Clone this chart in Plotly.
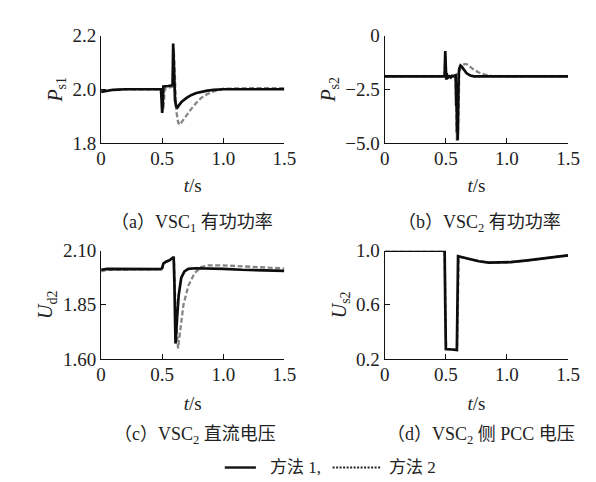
import plotly.graph_objects as go

# ---------------- data ----------------
# (a) P_s1
t_a1 = [0, 0.04, 0.10, 0.20, 0.49, 0.495, 0.50, 0.505, 0.51, 0.55, 0.585, 0.59, 0.595, 0.60, 0.605,
        0.615, 0.625, 0.64, 0.66, 0.70, 0.74, 0.78, 0.82, 0.87, 0.92, 1.0, 1.2, 1.5]
p_a1 = [1.99, 1.993, 1.998, 2.0, 2.0, 1.96, 1.912, 1.95, 2.01, 2.012, 2.015, 2.17, 2.12, 2.04, 1.96,
        1.935, 1.932, 1.942, 1.954, 1.968, 1.979, 1.986, 1.991, 1.995, 1.998, 2.0, 2.0, 2.0]
t_a2 = [0, 0.04, 0.10, 0.20, 0.49, 0.50, 0.505, 0.51, 0.515, 0.52, 0.55, 0.585, 0.595, 0.60, 0.605,
        0.615, 0.63, 0.64, 0.65, 0.67, 0.70, 0.74, 0.78, 0.82, 0.87, 0.92, 0.97, 1.0, 1.2, 1.5]
p_a2 = [1.995, 1.996, 1.999, 2.0, 2.0, 1.99, 1.95, 1.925, 1.96, 2.0, 2.005, 2.01, 2.15, 2.10, 2.0,
        1.92, 1.878, 1.868, 1.872, 1.885, 1.905, 1.928, 1.95, 1.968, 1.982, 1.992, 1.998, 2.002, 2.004, 2.004]

# (b) P_s2
t_b1 = [0, 0.49, 0.495, 0.50, 0.503, 0.507, 0.51, 0.515, 0.52, 0.53, 0.54, 0.55, 0.56, 0.58, 0.585,
        0.588, 0.591, 0.594, 0.597, 0.60, 0.605, 0.61, 0.62, 0.63, 0.65, 0.67, 0.70, 0.73, 0.8, 1.0, 1.5]
p_b1 = [-1.9, -1.9, -0.72, -1.5, -2.05, -1.75, -2.0, -1.85, -1.95, -1.9, -1.95, -1.88, -1.9, -1.85, -3.3,
        -2.2, -4.5, -2.4, -4.87, -3.0, -1.8, -1.54, -1.40, -1.45, -1.62, -1.76, -1.86, -1.9, -1.9, -1.9, -1.9]
t_b2 = [0, 0.49, 0.495, 0.50, 0.505, 0.51, 0.52, 0.54, 0.56, 0.58, 0.59, 0.595, 0.60, 0.605, 0.61,
        0.62, 0.64, 0.66, 0.68, 0.70, 0.73, 0.77, 0.82, 0.87, 0.92, 1.0, 1.5]
p_b2 = [-1.9, -1.9, -0.9, -1.6, -2.0, -1.85, -1.95, -1.9, -1.88, -1.86, -4.9, -3.0, -4.6, -2.5, -1.8,
        -1.5, -1.36, -1.32, -1.36, -1.46, -1.6, -1.72, -1.82, -1.88, -1.9, -1.9, -1.9]

# (c) U_d2
t_c1 = [0, 0.05, 0.49, 0.50, 0.51, 0.53, 0.56, 0.585, 0.594, 0.60, 0.609, 0.622, 0.635, 0.656,
        0.682, 0.714, 0.77, 1.0, 1.15, 1.5]
u_c1 = [2.012, 2.016, 2.015, 2.02, 2.041, 2.049, 2.056, 2.068, 2.071, 1.953, 1.671, 1.79, 1.894, 1.975,
        2.004, 2.016, 2.019, 2.016, 2.012, 2.007]
t_c2 = [0, 0.05, 0.49, 0.50, 0.51, 0.53, 0.56, 0.585, 0.596, 0.61, 0.63, 0.648, 0.674, 0.714,
        0.766, 0.818, 0.87, 1.0, 1.13, 1.29, 1.5]
u_c2 = [2.004, 2.012, 2.015, 2.02, 2.04, 2.047, 2.054, 2.065, 2.068, 1.8, 1.649, 1.732, 1.85, 1.938,
        1.997, 2.024, 2.032, 2.032, 2.029, 2.024, 2.018]

# (d) U_s2
t_d1 = [0, 0.49, 0.495, 0.50, 0.55, 0.59, 0.60, 0.64, 0.70, 0.77, 0.85, 0.95, 1.03, 1.17, 1.33, 1.5]
u_d1 = [1.0, 1.0, 0.6, 0.273, 0.27, 0.266, 0.96, 0.95, 0.935, 0.922, 0.912, 0.912, 0.915, 0.929, 0.946, 0.965]
t_d2 = [0, 0.49, 0.497, 0.502, 0.55, 0.592, 0.605, 0.64, 0.70, 0.77, 0.85, 0.95, 1.03, 1.17, 1.33, 1.5]
u_d2 = [1.0, 1.0, 0.55, 0.273, 0.27, 0.266, 0.955, 0.95, 0.935, 0.922, 0.912, 0.912, 0.915, 0.929, 0.946, 0.965]

x_ticks = [0, 0.5, 1.0, 1.5]
x_ticktext = ["0", "0.5", "1.0", "1.5"]
yticks_a = [1.8, 2.0, 2.2]; ytext_a = ["1.8", "2.0", "2.2"]
yticks_b = [-5.0, -2.5, 0]; ytext_b = ["\u22125.0", "\u22122.5", "0"]
yticks_c = [1.60, 1.85, 2.10]; ytext_c = ["1.60", "1.85", "2.10"]
yticks_d = [0.2, 0.6, 1.0]; ytext_d = ["0.2", "0.6", "1.0"]

captions = ["（a）VSC<sub>1</sub> 有功功率", "（b）VSC<sub>2</sub> 有功功率",
            "（c）VSC<sub>2</sub> 直流电压", "（d）VSC<sub>2</sub> 侧 PCC 电压"]
ytitles = ["<i>P</i><sub>s1</sub>", "<i>P</i><sub>s2</sub>", "<i>U</i><sub>d2</sub>", "<i>U</i><sub>s2</sub>"]
legend_names = ["方法 1,", "方法 2"]

# ---------------- figure ----------------
W, H = 596, 482
SERIF = "Liberation Serif"
CAPF = "Liberation Serif, Noto Sans CJK SC"

fig = go.Figure()

panels = [
    (t_a1, p_a1, t_a2, p_a2, [1.8, 2.2], yticks_a, ytext_a),
    (t_b1, p_b1, t_b2, p_b2, [-5.0, 0], yticks_b, ytext_b),
    (t_c1, u_c1, t_c2, u_c2, [1.60, 2.10], yticks_c, ytext_c),
    (t_d1, u_d1, t_d2, u_d2, [0.2, 1.0], yticks_d, ytext_d),
]

xdoms = [[90.7 / W, 279.3 / W], [382.7 / W, 571.3 / W]]
ydoms = [[1 - 130.7 / H, 1 - 18.3 / H], [1 - 356.5 / H, 1 - 243.3 / H]]
xtitle_standoff = [10, 10, 12, 12]

for i, (t1, v1, t2, v2, yr, yt, ytt) in enumerate(panels):
    xa = "x" if i == 0 else f"x{i+1}"
    ya = "y" if i == 0 else f"y{i+1}"
    fig.add_trace(go.Scatter(x=t2, y=v2, mode="lines", xaxis=xa, yaxis=ya, showlegend=False,
                             line=dict(color="#858585", width=2.3, dash="5px,2.5px")))
    fig.add_trace(go.Scatter(x=t1, y=v1, mode="lines", xaxis=xa, yaxis=ya, showlegend=False,
                             line=dict(color="#0d0d0d", width=2.7)))
    xkey = "xaxis" if i == 0 else f"xaxis{i+1}"
    ykey = "yaxis" if i == 0 else f"yaxis{i+1}"
    fig.layout[xkey] = dict(domain=xdoms[i % 2], anchor=ya, range=[0, 1.5],
                            tickvals=x_ticks, ticktext=x_ticktext, ticks="inside", ticklen=5,
                            tickcolor="#111", showline=True, linecolor="#111", linewidth=1.3,
                            showgrid=False, zeroline=False, ticklabelstandoff=-2,
                            tickfont=dict(family=SERIF, size=19, color="#222"),
                            title=dict(text="<i>t</i>/s", font=dict(family=SERIF, size=19, color="#222"),
                                       standoff=xtitle_standoff[i]))
    fig.layout[ykey] = dict(domain=ydoms[i // 2], anchor=xa, range=yr,
                            tickvals=yt, ticktext=ytt, ticks="inside", ticklen=5,
                            tickcolor="#111", showline=True, linecolor="#111", linewidth=1.3,
                            showgrid=False, zeroline=False,
                            tickfont=dict(family=SERIF, size=19, color="#222"),
                            title=dict(text=ytitles[i], font=dict(family=SERIF, size=20, color="#222"),
                                       standoff=4))

cap_pos = [(184, 215), (480, 215), (187, 436), (482, 436)]
for txt, (cx, cy) in zip(captions, cap_pos):
    fig.add_annotation(text=txt, x=cx / W, y=1 - cy / H, xref="paper", yref="paper",
                       showarrow=False, xanchor="center", yanchor="middle",
                       font=dict(family=CAPF, size=18, color="#222"))

# legend
ly = 1 - 470 / H
fig.add_shape(type="line", xref="paper", yref="paper", x0=218 / W, x1=250 / W, y0=ly, y1=ly,
              line=dict(color="#111", width=2.4))
fig.add_annotation(text=legend_names[0], x=262 / W, y=ly, xref="paper", yref="paper", showarrow=False,
                   xanchor="left", yanchor="middle", font=dict(family=CAPF, size=17, color="#222"))
fig.add_shape(type="line", xref="paper", yref="paper", x0=329 / W, x1=378 / W, y0=ly, y1=ly,
              line=dict(color="#222", width=1.8, dash="2px,1.5px"))
fig.add_annotation(text=legend_names[1], x=385 / W, y=ly, xref="paper", yref="paper", showarrow=False,
                   xanchor="left", yanchor="middle", font=dict(family=CAPF, size=17, color="#222"))

fig.update_layout(width=W, height=H, margin=dict(l=0, r=0, t=0, b=0),
                  paper_bgcolor="white", plot_bgcolor="white", showlegend=False)

fig.write_html("out.html")
